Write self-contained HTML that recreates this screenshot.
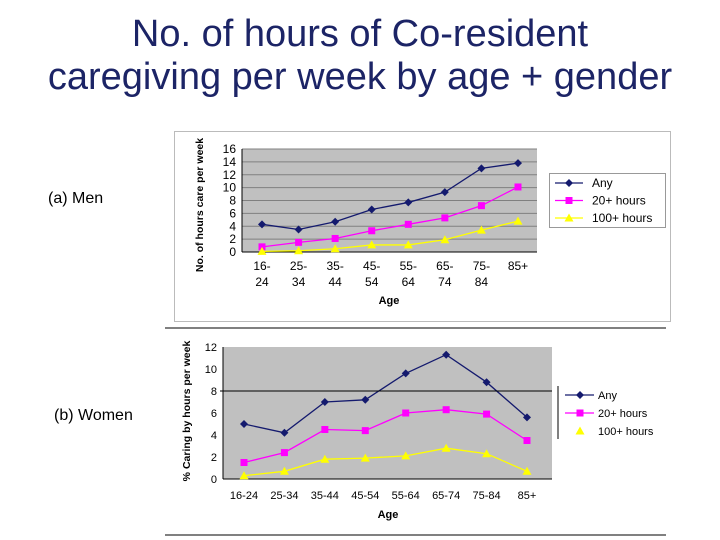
<!DOCTYPE html>
<html><head><meta charset="utf-8"><style>
body{margin:0;width:720px;height:540px;background:#fff;overflow:hidden;font-family:"Liberation Sans",sans-serif}
svg{position:absolute;left:0;top:0}
</style></head><body>
<svg id="s" width="720" height="540">
<text x="360" y="46" text-anchor="middle" font-size="38" fill="#1c2466">No. of hours of Co-resident</text>
<text x="360" y="89" text-anchor="middle" font-size="38" fill="#1c2466">caregiving per week by age + gender</text>
<text x="48" y="203" font-size="16" fill="#000">(a) Men</text>
<text x="54" y="420" font-size="16" fill="#000">(b) Women</text>
<rect x="174.5" y="131.5" width="496" height="190" fill="#fff" stroke="#bbb"/>
<line x1="165" y1="328" x2="666" y2="328" stroke="#000"/>
<line x1="165" y1="535" x2="666" y2="535" stroke="#000"/>
</svg>
<script>
const menCats=["16-|24","25-|34","35-|44","45-|54","55-|64","65-|74","75-|84","85+"];
const menAny=[4.3,3.5,4.7,6.6,7.7,9.3,13,13.8];
const men20=[0.8,1.5,2.1,3.3,4.3,5.3,7.2,10.1];
const men100=[0.1,0.2,0.5,1.1,1.1,1.9,3.4,4.8];
const menTicks=[0,2,4,6,8,10,12,14,16];
const womenCats=["16-24","25-34","35-44","45-54","55-64","65-74","75-84","85+"];
const womenAny=[5,4.2,7,7.2,9.6,11.3,8.8,5.6];
const women20=[1.5,2.4,4.5,4.4,6,6.3,5.9,3.5];
const women100=[0.3,0.7,1.8,1.9,2.1,2.8,2.3,0.7];
const womenTicks=[0,2,4,6,8,10,12];
const legendLabels=["Any","20+ hours","100+ hours"];
const colors=["#141a6e","#ff00ff","#ffff00"];
const svg=document.getElementById('s');
const NS="http://www.w3.org/2000/svg";
function mk(tag,attrs,parent){const e=document.createElementNS(NS,tag);for(const k in attrs)e.setAttribute(k,attrs[k]);(parent||svg).appendChild(e);return e;}
function marker(kind,x,y,c,g){
 if(kind==0)return mk('polygon',{points:`${x},${y-4} ${x+4},${y} ${x},${y+4} ${x-4},${y}`,fill:c},g);
 if(kind==1)return mk('rect',{x:x-3.5,y:y-3.5,width:7,height:7,fill:c},g);
 return mk('polygon',{points:`${x},${y-4.5} ${x+4.5},${y+3.5} ${x-4.5},${y+3.5}`,fill:c},g);
}
function chart(o){
 const g=mk('g',{});
 
 
 const yMax=o.ticks[o.ticks.length-1];
 const ys=v=>o.y0-(v/yMax)*(o.y0-o.y1);
 const xs=i=>o.xa+i*(o.xb-o.xa)/(o.cats.length-1);
 const pa=mk('rect',{x:o.px0,y:o.y1,width:o.px1-o.px0,height:o.y0-o.y1,fill:"#c0c0c0"},g);
 
 
 o.ticks.forEach(t=>{
  if(o.grid&&t>0){const l=mk('line',{x1:o.px0,x2:o.px1,y1:ys(t),y2:ys(t),stroke:"#808080"},g);}
  const tx=mk('text',{x:o.px0-6,y:ys(t)+4,'text-anchor':'end','font-size':o.fs,fill:"#000"},g);
  tx.textContent=t;
  
  
 });
 mk('line',{x1:o.px0,x2:o.px0,y1:o.y1,y2:o.y0,stroke:"#000"},g);
 mk('line',{x1:o.px0,x2:o.px1,y1:o.y0,y2:o.y0,stroke:"#000"},g);
 o.cats.forEach((c,i)=>{
  const parts=c.split('|');
  parts.forEach((p,j)=>{const tx=mk('text',{x:xs(i),y:o.y0+o.catDy+j*16,'text-anchor':'middle','font-size':o.fs,fill:"#000"},g);tx.textContent=p;
   
   });
 });
 o.series.forEach((s,k)=>{
  const pts=s.map((v,i)=>xs(i)+','+ys(v)).join(' ');
  const pl=mk('polyline',{points:pts,fill:'none',stroke:colors[k],'stroke-width':1.3},g);
  
  
  s.forEach((v,i)=>{const m=marker(k,xs(i),ys(v),colors[k],g);
   
   });
 });
 const xt=mk('text',{x:o.axX,y:o.axY,'text-anchor':'middle','font-size':11,'font-weight':'bold'},g);
 xt.textContent="Age";
 
 
 const yt=mk('text',{x:0,y:0,'text-anchor':'middle','font-size':10.5,'font-weight':'bold',transform:`translate(${o.ytX},${o.ytY}) rotate(-90)`},g);
 yt.textContent=o.ytitle;
 
 
 return {g,ys};
}
const m=chart({name:'men-chart',cats:menCats,series:[menAny,men20,men100],ticks:menTicks,px0:242,px1:537,y0:252,y1:149,xa:262,xb:518,grid:true,fs:12,catDy:18,axX:389,axY:304,ytX:203,ytY:205,ytitle:"No. of hours care per week"});
const lg=mk('rect',{x:549.5,y:173.5,width:116,height:54,fill:"#fff",stroke:"#999"});


legendLabels.forEach((l,k)=>{const y=183+k*17.5;
 mk('line',{x1:555,x2:583,y1:y,y2:y,stroke:colors[k],'stroke-width':1.3});
 const mm=marker(k,569,y,colors[k]);
 
 
 const t=mk('text',{x:592,y:y+4,'font-size':12});t.textContent=l;
 
 
});
const w=chart({name:'women-chart',cats:womenCats,series:[womenAny,women20,women100],ticks:womenTicks,px0:223,px1:552,y0:479,y1:347,xa:244,xb:527,grid:false,fs:11,catDy:20,axX:388,axY:518,ytX:190,ytY:411,ytitle:"% Caring by hours per week"});
const ref=mk('line',{x1:220,x2:552,y1:w.ys(8),y2:w.ys(8),stroke:"#000"});


mk('line',{x1:558,x2:558,y1:386,y2:439,stroke:"#000"});
legendLabels.forEach((l,k)=>{const y=395+k*18;
 if(k<2)mk('line',{x1:565,x2:594,y1:y,y2:y,stroke:colors[k],'stroke-width':1.3});
 const mm=marker(k,580,y,colors[k]);
 
 
 const t=mk('text',{x:598,y:y+4,'font-size':11});t.textContent=l;
 
 
});
</script>
</body></html>
